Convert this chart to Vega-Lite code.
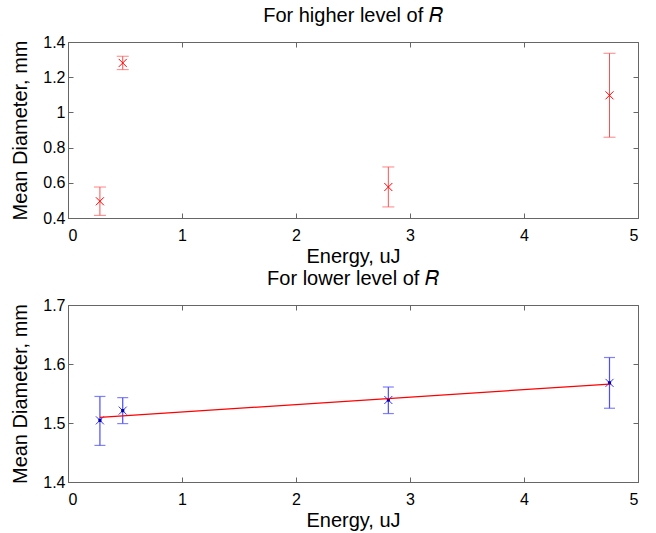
{
  "$schema": "https://vega.github.io/schema/vega-lite/v6.json",
  "background": "white",
  "padding": {"left": 10, "top": 5, "right": 5, "bottom": 5},
  "spacing": 1,
  "config": {
    "font": "Liberation Sans",
    "view": {"stroke": "#666666", "strokeWidth": 1},
    "axis": {
      "domainColor": "#666666",
      "tickColor": "#666666",
      "labelColor": "#000000",
      "titleColor": "#000000",
      "labelFont": "Liberation Sans",
      "titleFont": "Liberation Sans",
      "labelFontSize": 16,
      "titleFontSize": 20,
      "titleFontWeight": "normal",
      "grid": false,
      "tickSize": -5
    },
    "title": {"font": "Liberation Sans", "fontSize": 20, "fontWeight": "normal", "anchor": "middle", "offset": 8, "color": "#000000"}
  },
  "vconcat": [
    {
      "title": "For higher level of 𝑅",
      "width": 570,
      "height": 176,
      "data": {"values": [
        {"e": 0.28, "m": 0.495, "lo": 0.415, "hi": 0.576},
        {"e": 0.48, "m": 1.281, "lo": 1.243, "hi": 1.319},
        {"e": 2.81, "m": 0.576, "lo": 0.463, "hi": 0.69},
        {"e": 4.75, "m": 1.097, "lo": 0.859, "hi": 1.336}
      ]},
      "resolve": {"axis": {"x": "independent", "y": "independent"}},
      "layer": [
        {
          "mark": {"type": "rule", "color": "#ff5050", "strokeWidth": 1},
          "encoding": {
            "x": {"field": "e", "type": "quantitative", "scale": {"domain": [0, 5], "nice": false},
              "axis": {"values": [0, 1, 2, 3, 4, 5], "format": "~g", "labelPadding": 14, "title": "Energy, uJ", "titlePadding": 3}},
            "y": {"field": "lo", "type": "quantitative", "scale": {"domain": [0.4, 1.4], "nice": false},
              "axis": {"values": [0.4, 0.6, 0.8, 1.0, 1.2, 1.4], "format": "~g", "labelPadding": 8, "title": "Mean Diameter, mm", "titlePadding": 12}},
            "y2": {"field": "hi"}
          }
        },
        {
          "mark": {"type": "tick", "orient": "horizontal", "color": "#ff5050", "size": 12, "thickness": 1},
          "encoding": {
            "x": {"field": "e", "type": "quantitative", "scale": {"domain": [0, 5], "nice": false},
              "axis": {"orient": "top", "values": [0, 1, 2, 3, 4, 5], "labels": false, "title": null, "domain": false}},
            "y": {"field": "lo", "type": "quantitative", "scale": {"domain": [0.4, 1.4], "nice": false},
              "axis": {"orient": "right", "values": [0.4, 0.6, 0.8, 1.0, 1.2, 1.4], "labels": false, "title": null, "domain": false}}
          }
        },
        {
          "mark": {"type": "tick", "orient": "horizontal", "color": "#ff5050", "size": 12, "thickness": 1},
          "encoding": {
            "x": {"field": "e", "type": "quantitative", "scale": {"domain": [0, 5], "nice": false}, "axis": null},
            "y": {"field": "hi", "type": "quantitative", "scale": {"domain": [0.4, 1.4], "nice": false}, "axis": null}
          }
        },
        {
          "mark": {"type": "point", "shape": "M-1,-1L1,1M-1,1L1,-1", "filled": false, "size": 64, "color": "#ff0000", "strokeWidth": 1, "opacity": 1},
          "encoding": {
            "x": {"field": "e", "type": "quantitative", "scale": {"domain": [0, 5], "nice": false}, "axis": null},
            "y": {"field": "m", "type": "quantitative", "scale": {"domain": [0.4, 1.4], "nice": false}, "axis": null}
          }
        }
      ]
    },
    {
      "title": "For lower level of 𝑅",
      "width": 570,
      "height": 177,
      "data": {"values": [
        {"e": 0.28, "m": 1.5045, "lo": 1.462, "hi": 1.545},
        {"e": 0.48, "m": 1.521, "lo": 1.499, "hi": 1.543},
        {"e": 2.81, "m": 1.539, "lo": 1.516, "hi": 1.561},
        {"e": 4.75, "m": 1.568, "lo": 1.525, "hi": 1.611}
      ]},
      "resolve": {"axis": {"x": "independent", "y": "independent"}},
      "layer": [
        {
          "mark": {"type": "rule", "color": "#4d4dff", "strokeWidth": 1.2},
          "encoding": {
            "x": {"field": "e", "type": "quantitative", "scale": {"domain": [0, 5], "nice": false},
              "axis": {"values": [0, 1, 2, 3, 4, 5], "format": "~g", "labelPadding": 14, "title": "Energy, uJ", "titlePadding": 3}},
            "y": {"field": "lo", "type": "quantitative", "scale": {"domain": [1.4, 1.7], "nice": false},
              "axis": {"values": [1.4, 1.5, 1.6, 1.7], "format": "~g", "labelPadding": 8, "title": "Mean Diameter, mm", "titlePadding": 12}},
            "y2": {"field": "hi"}
          }
        },
        {
          "mark": {"type": "tick", "orient": "horizontal", "color": "#4d4dff", "size": 11, "thickness": 1.2},
          "encoding": {
            "x": {"field": "e", "type": "quantitative", "scale": {"domain": [0, 5], "nice": false},
              "axis": {"orient": "top", "values": [0, 1, 2, 3, 4, 5], "labels": false, "title": null, "domain": false}},
            "y": {"field": "lo", "type": "quantitative", "scale": {"domain": [1.4, 1.7], "nice": false},
              "axis": {"orient": "right", "values": [1.4, 1.5, 1.6, 1.7], "labels": false, "title": null, "domain": false}}
          }
        },
        {
          "mark": {"type": "tick", "orient": "horizontal", "color": "#4d4dff", "size": 11, "thickness": 1.2},
          "encoding": {
            "x": {"field": "e", "type": "quantitative", "scale": {"domain": [0, 5], "nice": false}, "axis": null},
            "y": {"field": "hi", "type": "quantitative", "scale": {"domain": [1.4, 1.7], "nice": false}, "axis": null}
          }
        },
        {
          "mark": {"type": "point", "shape": "M-1,-1L1,1M-1,1L1,-1", "filled": false, "size": 64, "color": "#3333ff", "strokeWidth": 1, "opacity": 1},
          "encoding": {
            "x": {"field": "e", "type": "quantitative", "scale": {"domain": [0, 5], "nice": false}, "axis": null},
            "y": {"field": "m", "type": "quantitative", "scale": {"domain": [1.4, 1.7], "nice": false}, "axis": null}
          }
        },
        {
          "mark": {"type": "square", "filled": true, "size": 10, "color": "#0000aa", "opacity": 1},
          "encoding": {
            "x": {"field": "e", "type": "quantitative", "scale": {"domain": [0, 5], "nice": false}, "axis": null},
            "y": {"field": "m", "type": "quantitative", "scale": {"domain": [1.4, 1.7], "nice": false}, "axis": null}
          }
        },
        {
          "data": {"values": [
            {"e": 0.28, "fit": 1.5096},
            {"e": 4.75, "fit": 1.566}
          ]},
          "mark": {"type": "line", "color": "#ff0000", "strokeWidth": 1.2},
          "encoding": {
            "x": {"field": "e", "type": "quantitative", "scale": {"domain": [0, 5], "nice": false}, "axis": null},
            "y": {"field": "fit", "type": "quantitative", "scale": {"domain": [1.4, 1.7], "nice": false}, "axis": null}
          }
        }
      ]
    }
  ]
}
